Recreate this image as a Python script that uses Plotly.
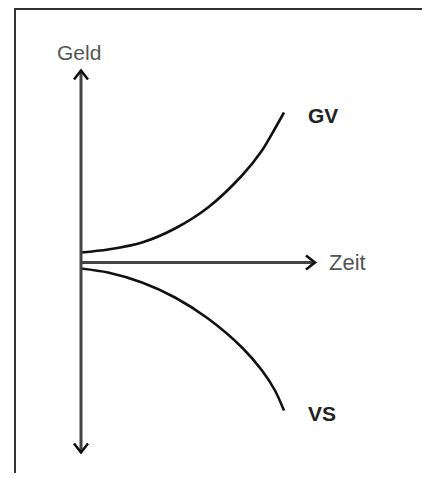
import plotly.graph_objects as go

# data: time steps and the two curves (money above / below zero)
zeit = [0, 27, 61, 94, 127, 161, 181, 194, 203]
gv = [10, 13, 20, 34, 55, 87, 112, 134, 150]
vs = [-6, -10, -20, -35, -56, -85, -108, -128, -148]
labels = ["GV", "VS"]

axis_col = "#444444"
curve_col = "#111111"

fig = go.Figure()
fig.add_trace(go.Scatter(x=zeit, y=gv, mode="lines", line=dict(color=curve_col, width=2.6, shape="spline", smoothing=0.8), hoverinfo="skip"))
fig.add_trace(go.Scatter(x=zeit, y=vs, mode="lines", line=dict(color=curve_col, width=2.6, shape="spline", smoothing=0.8), hoverinfo="skip"))

shapes = [
    # frame (left + top)
    dict(type="line", x0=-66, x1=-66, y0=254.5, y1=-240, line=dict(color="#333333", width=2)),
    dict(type="line", x0=-67, x1=349, y0=253.5, y1=253.5, line=dict(color="#333333", width=2)),
    # axes
    dict(type="line", x0=0, x1=0, y0=192, y1=-190, line=dict(color=axis_col, width=3)),
    dict(type="line", x0=0, x1=233, y0=0, y1=0, line=dict(color=axis_col, width=3)),
    # arrow heads
    dict(type="path", path="M -7,183 L 0,192 L 7,183", line=dict(color=curve_col, width=2.6)),
    dict(type="path", path="M -7,-181 L 0,-190 L 7,-181", line=dict(color=curve_col, width=2.6)),
    dict(type="path", path="M 225,7 L 234,0 L 225,-7", line=dict(color=curve_col, width=2.6)),
]

annotations = [
    dict(x=-2, y=210, text="Geld", showarrow=False, font=dict(size=21, color="#555555")),
    dict(x=246, y=0, text="Zeit", showarrow=False, xanchor="left", font=dict(size=22, color="#555555")),
    dict(x=225, y=gv[-1] - 3, text=labels[0], showarrow=False, xanchor="left", font=dict(size=21, color="#222222", family="Liberation Sans, Arial", weight="bold")),
    dict(x=225, y=vs[-1] - 3, text=labels[1], showarrow=False, xanchor="left", font=dict(size=21, color="#222222", family="Liberation Sans, Arial", weight="bold")),
]

# page body has an 8px margin, so the figure is kept inside the window (no scrollbar) and the ranges shifted
fig.update_layout(
    width=414, height=465,
    margin=dict(l=0, r=0, t=0, b=0),
    paper_bgcolor="white", plot_bgcolor="white",
    showlegend=False,
    font=dict(family="Liberation Sans, Arial"),
    xaxis=dict(range=[-73, 341], visible=False, fixedrange=True),
    yaxis=dict(range=[-210.5, 254.5], visible=False, fixedrange=True),
    shapes=shapes,
    annotations=annotations,
)

fig.write_html("out.html")
